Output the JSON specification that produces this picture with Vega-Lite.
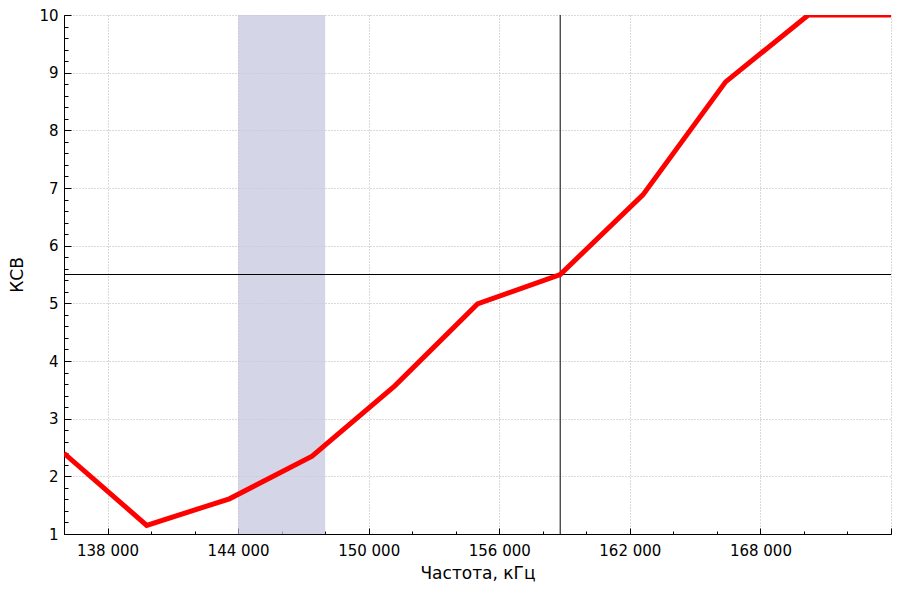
{
  "$schema": "https://vega.github.io/schema/vega-lite/v6.json",
  "width": 827,
  "height": 519,
  "autosize": {"type": "none"},
  "padding": {"left": 64, "top": 15, "right": 15, "bottom": 58},
  "background": "white",
  "config": {
    "view": {"stroke": null},
    "font": "DejaVu Sans",
    "axis": {
      "domainColor": "black",
      "tickColor": "black",
      "labelColor": "black",
      "titleColor": "black",
      "labelFont": "DejaVu Sans",
      "titleFont": "DejaVu Sans",
      "labelFontSize": 15,
      "titleFontSize": 17,
      "titleFontWeight": "normal",
      "gridColor": "#b4b4b4",
      "gridDash": [1, 2],
      "gridOpacity": 1
    }
  },
  "resolve": {"axis": {"x": "independent", "y": "independent"}},
  "datasets": {
    "ksv": [
      {"f": 136000, "k": 2.4},
      {"f": 139800, "k": 1.15},
      {"f": 143600, "k": 1.61},
      {"f": 147400, "k": 2.35},
      {"f": 151200, "k": 3.57},
      {"f": 155000, "k": 4.99},
      {"f": 158800, "k": 5.5},
      {"f": 162600, "k": 6.88},
      {"f": 166400, "k": 8.84},
      {"f": 170200, "k": 10},
      {"f": 174000, "k": 10}
    ],
    "band": [{"f1": 144000, "f2": 148000}],
    "vline": [{"f": 158800}],
    "hline": [{"k": 5.5}]
  },
  "layer": [
    {
      "data": {"name": "band"},
      "mark": {"type": "rect", "color": "#c5c8df", "opacity": 0.75},
      "encoding": {
        "x": {"field": "f1", "type": "quantitative", "scale": {"domain": [136000, 174000], "nice": false, "zero": false},
          "axis": {"orient": "bottom", "values": [138000, 144000, 150000, 156000, 162000, 168000, 174000], "title": "Частота, кГц", "ticks": false, "tickSize": 0, "labelPadding": 9, "titlePadding": 7, "grid": true,
            "labelExpr": "datum.value == 174000 ? '' : replace(format(datum.value, ','), ',', ' ')"}},
        "x2": {"field": "f2"},
        "y": {"datum": 1, "type": "quantitative", "scale": {"domain": [1, 10], "nice": false, "zero": false},
          "axis": {"orient": "left", "values": [1, 2, 3, 4, 5, 6, 7, 8, 9, 10], "format": "d", "title": "КСВ", "ticks": false, "tickSize": 0, "labelPadding": 6, "titlePadding": 12, "grid": true}},
        "y2": {"datum": 10}
      }
    },
    {
      "data": {"name": "vline"},
      "mark": {"type": "rule", "color": "black", "strokeWidth": 1},
      "encoding": {"x": {"field": "f", "type": "quantitative",
        "axis": {"orient": "top", "offset": -519, "values": [136000, 138000, 140000, 142000, 144000, 146000, 148000, 150000, 152000, 154000, 156000, 158000, 160000, 162000, 164000, 166000, 168000, 170000, 172000, 174000], "domain": false, "labels": false, "grid": false, "title": null, "tickSize": 3}}}
    },
    {
      "data": {"name": "hline"},
      "mark": {"type": "rule", "color": "black", "strokeWidth": 1},
      "encoding": {"y": {"field": "k", "type": "quantitative",
        "axis": {"orient": "right", "offset": -827, "values": [1, 1.2, 1.4, 1.6, 1.8, 2, 2.2, 2.4, 2.6, 2.8, 3, 3.2, 3.4, 3.6, 3.8, 4, 4.2, 4.4, 4.6, 4.8, 5, 5.2, 5.4, 5.6, 5.8, 6, 6.2, 6.4, 6.6, 6.8, 7, 7.2, 7.4, 7.6, 7.8, 8, 8.2, 8.4, 8.6, 8.8, 9, 9.2, 9.4, 9.6, 9.8, 10], "domain": false, "labels": false, "grid": false, "title": null, "tickSize": 4}}}
    },
    {
      "data": {"name": "ksv"},
      "mark": {"type": "line", "color": "#ff0000", "strokeWidth": 5, "strokeJoin": "miter", "clip": true},
      "encoding": {
        "x": {"field": "f", "type": "quantitative",
          "axis": {"orient": "top", "offset": -519, "values": [138000, 144000, 150000, 156000, 162000, 168000, 174000], "domain": false, "labels": false, "grid": false, "title": null, "tickSize": 6}},
        "y": {"field": "k", "type": "quantitative",
          "axis": {"orient": "right", "offset": -827, "values": [1, 2, 3, 4, 5, 6, 7, 8, 9, 10], "domain": false, "labels": false, "grid": false, "title": null, "tickSize": 7}}
      }
    }
  ]
}
